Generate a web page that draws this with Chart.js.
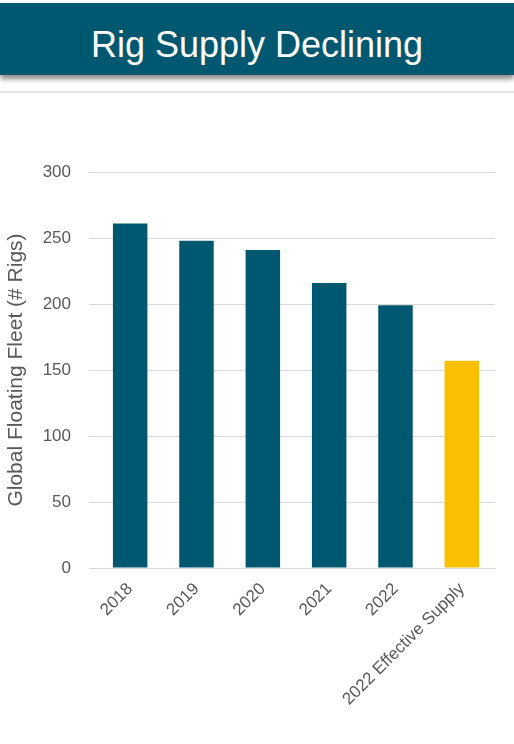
<!DOCTYPE html>
<html>
<head>
<meta charset="utf-8">
<script src="https://cdn.jsdelivr.net/npm/chart.js@4"></script>
<style>
  body { margin: 0; width: 514px; height: 744px; background: #fff; font-family: "Liberation Sans", Arial, sans-serif; overflow: hidden; }
  .header { position: absolute; top: 3px; left: 0; width: 514px; height: 72px; background: #005870;
            box-shadow: 0 4px 5px rgba(0,0,0,0.45); color: #fff; font-size: 36px; text-align: center; line-height: 84px; }
  .rule { position: absolute; top: 91px; left: 0; width: 514px; height: 2px; background: #e6e6e6; }
  .wrap { position: absolute; top: 100px; left: 0; width: 514px; height: 644px; }
</style>
</head>
<body>
<div class="header">Rig Supply Declining</div>
<div class="rule"></div>
<div class="wrap"><canvas id="chart"></canvas></div>
<script>
// Datos del gráfico
const categories = ['2018', '2019', '2020', '2021', '2022', '2022 Effective Supply'];
const fleetValues = [261, 248, 241, 216, 199, 157];
const barColors = ['#005870', '#005870', '#005870', '#005870', '#005870', '#f9bf00'];

const ctx = document.getElementById('chart').getContext('2d');
new Chart(ctx, {
    type: 'bar',
    data: {
        labels: categories,
        datasets: [{ data: fleetValues, backgroundColor: barColors, categoryPercentage: 1, barPercentage: 0.52 }]
    },
    options: {
        responsive: true,
        maintainAspectRatio: false,
        animation: false,
        layout: { padding: { top: 72, right: 19 } },
        plugins: { legend: { display: false }, tooltip: { enabled: false } },
        scales: {
            x: {
                grid: { display: false },
                border: { color: '#d9d9d9' },
                ticks: { color: '#595959', font: { size: 17, family: 'Liberation Sans' }, maxRotation: 45, minRotation: 45 },
                afterFit: (scale) => { scale.height = 176; }
            },
            y: {
                min: 0, max: 300,
                ticks: { stepSize: 50, color: '#595959', font: { size: 17, family: 'Liberation Sans' }, padding: 18 },
                grid: { color: '#d9d9d9' },
                border: { display: false },
                title: { display: true, text: 'Global Floating Fleet (# Rigs)', color: '#595959', font: { size: 21, family: 'Liberation Sans' } },
                afterFit: (scale) => { scale.width = 97; }
            }
        }
    }
});
</script>
</body>
</html>
